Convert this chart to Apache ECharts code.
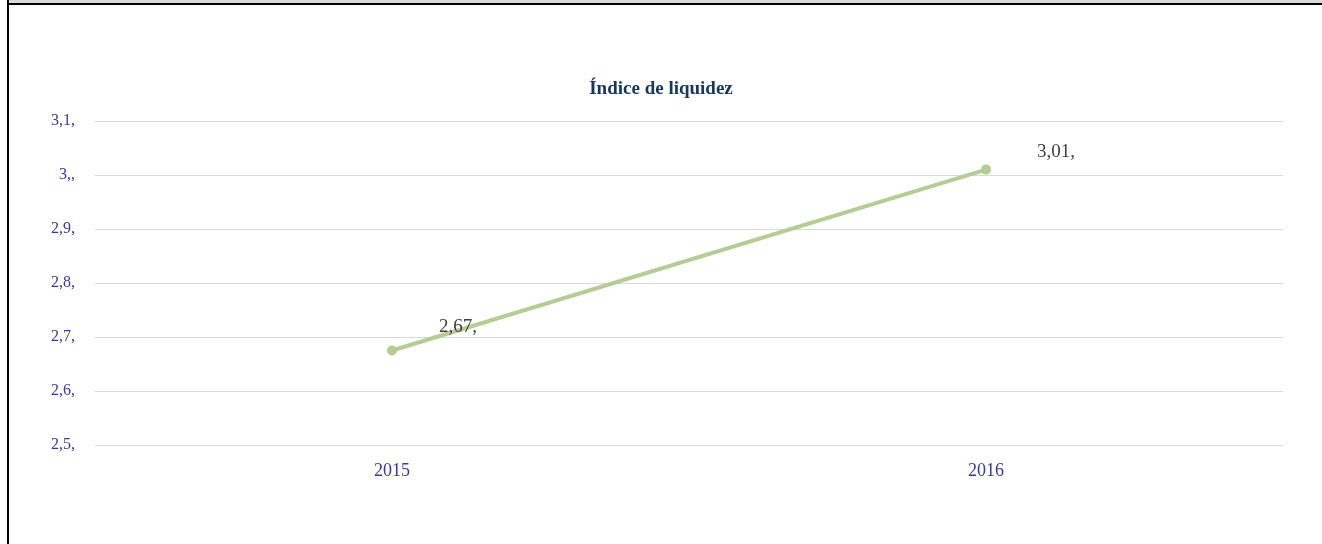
<!DOCTYPE html>
<html>
<head>
<meta charset="utf-8">
<script src="https://cdn.jsdelivr.net/npm/echarts@6/dist/echarts.min.js"></script>
<style>
  html, body { margin: 0; padding: 0; background: #fff; }
  #wrap { position: relative; width: 1322px; height: 544px; overflow: hidden; }
  #chart-container { position: absolute; left: 0; top: 0; width: 1322px; height: 544px; }
  #band { position: absolute; left: 9px; top: 0; right: 0; height: 3px; background: #d9d9d9; }
  #topline { position: absolute; left: 7px; top: 3px; right: 0; height: 2px; background: #000; }
  #leftline { position: absolute; left: 7px; top: 0; bottom: 0; width: 2px; background: #000; }
</style>
</head>
<body>
<div id="wrap">
  <div id="chart-container"></div>
  <div id="band"></div>
  <div id="topline"></div>
  <div id="leftline"></div>
</div>
<script>
const years = ["2015", "2016"];
const liquidez = [2.675, 3.01];
const pointLabels = ["2,67,", "3,01,"];
const yTickValues = [2.5, 2.6, 2.7, 2.8, 2.9, 3.0, 3.1];
const yTickLabels = ["2,5,", "2,6,", "2,7,", "2,8,", "2,9,", "3,,", "3,1,"];
const labelOffsets = [[66, -4], [70, 2]];

document.addEventListener('DOMContentLoaded', () => {
  const chart = echarts.init(document.getElementById("chart-container"));
  const serif = "'Liberation Serif', 'Times New Roman', serif";

  const option = {
    animation: false,
    title: {
      text: "Índice de liquidez",
      left: "center",
      top: 75,
      textStyle: { fontFamily: serif, fontWeight: "bold", fontSize: 19, color: "#17375e" }
    },
    grid: { left: 95, right: 39, top: 121, bottom: 99 },
    xAxis: {
      type: "category",
      data: years,
      axisLine: { show: false },
      axisTick: { show: false },
      axisLabel: { fontFamily: serif, fontSize: 18, color: "#3838a0", margin: 17 }
    },
    yAxis: {
      type: "value",
      min: 2.5,
      max: 3.1,
      interval: 0.1,
      axisLine: { show: false },
      axisTick: { show: false },
      splitLine: { lineStyle: { color: "#d9d9d9", width: 1 } },
      axisLabel: {
        fontFamily: serif, fontSize: 16, color: "#3838a0", margin: 20,
        formatter: v => {
          const i = yTickValues.findIndex(t => Math.abs(t - v) < 1e-6);
          return i >= 0 ? yTickLabels[i] : "";
        }
      }
    },
    series: [{
      name: "Índice de liquidez",
      type: "line",
      data: liquidez.map((v, i) => ({
        value: v,
        label: { offset: labelOffsets[i] }
      })),
      symbol: "circle",
      symbolSize: 10,
      lineStyle: { color: "#b5cc93", width: 4 },
      itemStyle: { color: "#b5cc93" },
      label: {
        show: true,
        position: "top",
        fontFamily: serif,
        fontSize: 19,
        color: "#404040",
        formatter: p => pointLabels[p.dataIndex]
      }
    }]
  };

  chart.setOption(option);
});
</script>
</body>
</html>
